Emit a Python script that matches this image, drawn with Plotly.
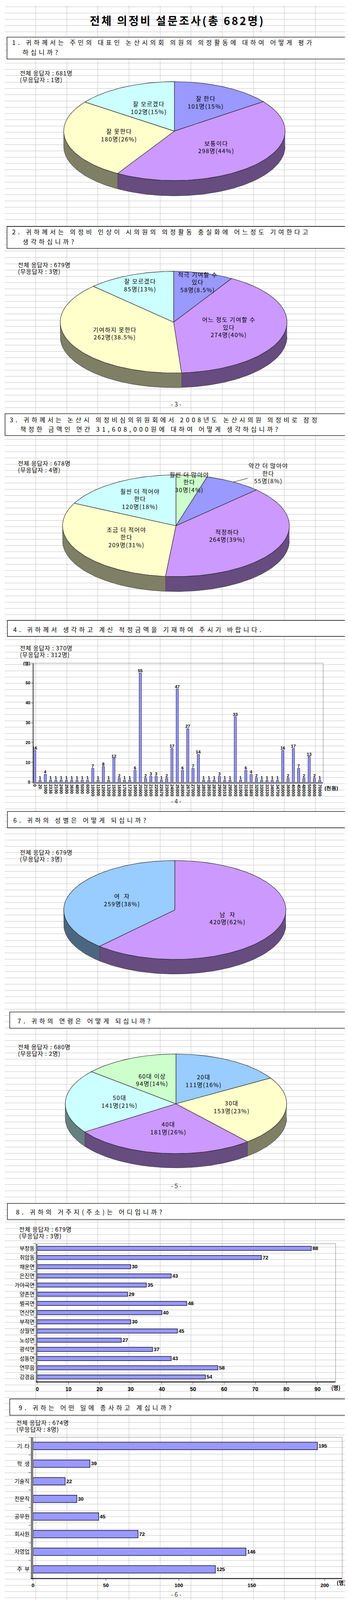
import math
import plotly.graph_objects as go

# the page is photographed 4096 px tall, so the reference's 4584 px layout is
# squeezed vertically to fit (all positions below are in reference pixels)
W, H_REF = 892, 4584
H = 4096
F = H / H_REF
KR = "Noto Sans CJK KR, Noto Sans, sans-serif"
NARROW = "Liberation Sans Narrow, Arial Narrow, Liberation Sans, sans-serif"

# ---------------- data ----------------
main_title = "전체 의정비 설문조사(총 682명)"

answered = [681, 679, 678, 370, 679, 680, 679, 674]
no_answer = [1, 3, 4, 312, 3, 2, 3, 8]

q1_labels = ["잘 한다", "보통이다", "잘 못한다", "잘 모르겠다"]
q1_counts = [101, 298, 180, 102]
q1_pct = ["15%", "44%", "26%", "15%"]

q2_labels = ["적극 기여할 수<br>있다", "어느 정도 기여할 수<br>있다", "기여하지 못한다", "잘 모르겠다"]
q2_counts = [58, 274, 262, 85]
q2_pct = ["8.5%", "40%", "38.5%", "13%"]

q3_labels = ["훨씬 더 많아야<br>한다", "약간 더 많아야<br>한다", "적정하다",
             "조금 더 적어야<br>한다", "훨씬 더 적어야<br>한다"]
q3_counts = [30, 55, 264, 209, 120]
q3_pct = ["4%", "8%", "39%", "31%", "18%"]

q4_amounts = ["0", "20", "1000", "2336", "2100", "2400", "2500", "3600", "4800", "5000", "6000",
              "10000", "11000", "12000", "13200", "15000", "16000", "17000", "17200", "18000",
              "20000", "21000", "21600", "22000", "22670", "23000", "24000", "25000", "26000",
              "26700", "27000", "28000", "28030", "28035", "28300", "29000", "29103", "29500",
              "30000", "31000", "31608", "31680", "32000", "33000", "33330", "34000", "34700",
              "35000", "36000", "40000", "45000", "48000", "50000", "60000", "70000"]
q4_counts = [16, 1, 4, 1, 1, 1, 1, 1, 1, 1, 1,
             7, 1, 8, 1, 12, 2, 1, 1, 6,
             55, 2, 3, 3, 1, 2, 17, 47, 6,
             27, 7, 14, 1, 1, 1, 3, 1, 1,
             33, 1, 6, 4, 2, 1, 1, 1, 1,
             16, 2, 17, 7, 2, 13, 2, 1]
q4_yticks = [0, 10, 20, 30, 40, 50, 60]
q4_yticktext = ["0", "10", "20", "30", "40", "50", "(명)"]

q6_labels = ["남  자", "여  자"]
q6_counts = [420, 259]
q6_pct = ["62%", "38%"]

q7_labels = ["20대", "30대", "40대", "50대", "60대 이상"]
q7_counts = [111, 153, 181, 141, 94]
q7_pct = ["16%", "23%", "26%", "21%", "14%"]

q8_areas = ["부창동", "취암동", "채운면", "은진면", "가야곡면", "양촌면", "벌곡면", "연산면",
            "부적면", "상월면", "노성면", "광석면", "성동면", "연무읍", "강경읍"]
q8_counts = [88, 72, 30, 43, 35, 29, 48, 40, 30, 45, 27, 37, 43, 58, 54]
q8_xticks = [0, 10, 20, 30, 40, 50, 60, 70, 80, 90]

q9_jobs = ["기  타", "학  생", "기술직", "전문직", "공무원", "회사원", "자영업", "주  부"]
q9_counts = [195, 39, 22, 30, 45, 72, 146, 125]
q9_xticks = [0, 50, 100, 150, 200]

questions = [
    ["1. 귀하께서는 주민의 대표인 논산시의회 의원의 의정활동에 대하여 어떻게 평가", "하십니까?"],
    ["2. 귀하께서는 의정비 인상이 시의원의 의정활동 충실화에 어느정도 기여한다고", "생각하십니까?"],
    ["3. 귀하께서는 논산시 의정비심의위원회에서 2008년도 논산시의원 의정비로 잠정",
     "책정한 금액인 연간 31,608,000원에 대하여 어떻게 생각하십니까?"],
    ["4. 귀하께서 생각하고 계신 적정금액을 기재하여 주시기 바랍니다."],
    ["6. 귀하의 성별은 어떻게 되십니까?"],
    ["7. 귀하의 연령은 어떻게 되십니까?"],
    ["8. 귀하의 거주지(주소)는 어디입니까?"],
    ["9. 귀하는 어떤 일에 종사하고 계십니까?"],
]
pages = ["- 3 -", "- 4 -", "- 5 -", "- 6 -"]

# ---------------- styles / layout positions (reference pixels from top-left) ----------------
BLUE, LAV, YEL, CYAN, SKY, GREEN = "#9999FF", "#CC99FF", "#FFFFCC", "#CCFFFF", "#99CCFF", "#CCFFCC"
q1_colors = [BLUE, LAV, YEL, CYAN]
q2_colors = [BLUE, LAV, YEL, CYAN]
q3_colors = [GREEN, BLUE, LAV, YEL, CYAN]
q6_colors = [LAV, SKY]
q7_colors = [SKY, YEL, LAV, CYAN, GREEN]

q_boxes = [  # x0, x1, y0, y1, [(x, y) per text line]
    (6, 879, 91, 154, [(17, 106), (44, 134)]),
    (6, 877, 635, 698, [(17, 650), (44, 678)]),
    (1, 877, 1173, 1236, [(11, 1190), (38, 1217)]),
    (7, 879, 1767, 1813, [(20, 1792)]),
    (7, 879, 2316, 2363, [(20, 2340)]),
    (13, 892, 2892, 2939, [(31, 2917)]),
    (7, 879, 3442, 3489, [(27, 3466)]),
    (13, 892, 4004, 4051, [(34, 4028)]),
]
resp_pos = [(37, 194), (32, 745), (32, 1315), (37, 1846), (37, 2433), (32, 2992), (35, 3516), (28, 4072)]
page_pos = [1145, 2285, 3391, 4565]

fig = go.Figure()
layout = {}
annotations = []
shapes = []


def xdom(x0, x1):
    return [max(0, x0 / W), min(1, x1 / W)]


def ydom(top, bottom):
    return [max(0, 1 - bottom / H_REF), min(1, 1 - top / H_REF)]


def yp(y):
    return 1 - y / H_REF


def spaced(t, ls):
    return '<span style="letter-spacing:%gpx">%s</span>' % (ls, t)


def text_at(t, x, y, size, family=KR, anchor="left", ls=0, color="black", weight="normal"):
    annotations.append(dict(text=spaced(t, ls) if ls else t, x=x / W, y=yp(y),
                            xref="paper", yref="paper", showarrow=False,
                            xanchor=anchor, yanchor="middle",
                            font=dict(family=family, size=size, color=color, weight=weight)))


def darker(c, f=0.5):
    r, g, b = int(c[1:3], 16), int(c[3:5], 16), int(c[5:7], 16)
    return "#%02x%02x%02x" % (int(r * f), int(g * f), int(b * f))


def arc(a, b, drop=0.0):
    n = max(3, int(abs(b - a) / math.radians(2)) + 2)
    ts = [a + (b - a) * i / (n - 1) for i in range(n)]
    return [math.sin(t) for t in ts], [math.cos(t) - drop for t in ts]


def pie3d(n, labels, counts, pcts, colors, g):
    cx, cy, rx, ry, d = g["cx"], g["cy"], g["rx"], g["ry"], g["depth"]
    pad = 0.02
    h = d / ry
    xa, ya = "x%d" % n, "y%d" % n
    layout["xaxis%d" % n] = dict(domain=xdom(cx - rx * (1 + pad), cx + rx * (1 + pad)),
                                 range=[-1 - pad, 1 + pad], visible=False, fixedrange=True, anchor=ya)
    layout["yaxis%d" % n] = dict(domain=ydom(cy - ry * (1 + pad), cy + ry * (1 + pad) + d),
                                 range=[-1 - pad - h, 1 + pad], visible=False, fixedrange=True, anchor=xa)
    total = sum(counts)
    bounds = [0.0]
    for c in counts:
        bounds.append(bounds[-1] + 2 * math.pi * c / total)
    # side of the cylinder (front half only)
    for i, col in enumerate(colors):
        s, e = max(bounds[i], math.pi / 2), min(bounds[i + 1], 3 * math.pi / 2)
        if s < e:
            xs, ys = arc(s, e)
            xb, yb = arc(s, e, h)
            fig.add_trace(go.Scatter(x=xs + xb[::-1], y=ys + yb[::-1], fill="toself", mode="lines",
                                     fillcolor=darker(col), line=dict(color="#202020", width=0.8),
                                     hoverinfo="skip", xaxis=xa, yaxis=ya))
    # top face
    for i, col in enumerate(colors):
        xs, ys = arc(bounds[i], bounds[i + 1])
        fig.add_trace(go.Scatter(x=[0] + xs + [0], y=[0] + ys + [0], fill="toself", mode="lines",
                                 fillcolor=col, line=dict(color="#202020", width=1.1),
                                 hoverinfo="skip", xaxis=xa, yaxis=ya))
    # data labels
    tx, ty, tt = [], [], []
    for i, lab in enumerate(labels):
        mid = (bounds[i] + bounds[i + 1]) / 2
        txt = spaced("%s<br>%d명(%s)" % (lab, counts[i], pcts[i]), 1.5)
        if i in g.get("outside", {}):
            ox, oy = g["outside"][i]
            annotations.append(dict(text=txt, x=math.sin(mid), y=math.cos(mid), xref=xa, yref=ya,
                                    ax=ox, ay=oy * F, showarrow=True, arrowhead=0, arrowwidth=1,
                                    arrowcolor="black", font=dict(family=KR, size=15, color="black")))
            continue
        r = g["label_r"][i]
        tx.append(r * math.sin(mid))
        ty.append(r * math.cos(mid))
        tt.append(txt)
    fig.add_trace(go.Scatter(x=tx, y=ty, text=tt, mode="text", cliponaxis=False,
                             textfont=dict(family=KR, size=15, color="black"),
                             hoverinfo="skip", xaxis=xa, yaxis=ya))


# ---------------- background spreadsheet grid ----------------
fig.add_trace(go.Scatter(x=[0], y=[0], mode="markers", marker=dict(opacity=0), hoverinfo="skip"))
layout["xaxis"] = dict(domain=[0, 1], range=[0, W], tick0=0, dtick=80, showgrid=True,
                       gridcolor="#C4C4C4", gridwidth=1, showticklabels=False, zeroline=False,
                       fixedrange=True)
layout["yaxis"] = dict(domain=[0, 1], range=[H_REF, 0], tick0=4, dtick=18, showgrid=True,
                       gridcolor="#C4C4C4", gridwidth=1, showticklabels=False, zeroline=False,
                       fixedrange=True)

# ---------------- headings ----------------
text_at("<b>%s</b>" % main_title, 444, 43, 28, anchor="center", ls=4)
for (x0, x1, y0, y1, lines), qt in zip(q_boxes, questions):
    shapes.append(dict(type="rect", xref="paper", yref="paper", x0=x0 / W, x1=x1 / W,
                       y0=yp(y1), y1=yp(y0), fillcolor="white",
                       line=dict(color="black", width=1.3), layer="above"))
    for (lx, ly), t in zip(lines, qt):
        text_at(t, lx, ly, 16, ls=6)
for (x, y), a, na in zip(resp_pos, answered, no_answer):
    text_at("전체 응답자 : %d명" % a, x, y, 15, ls=1)
    text_at("(무응답자 : %d명)" % na, x, y + 19, 15, ls=1)
for p, y in zip(pages, page_pos):
    text_at(p, 441, y, 16, anchor="center", color="#333333")

# ---------------- pies ----------------
pie3d(2, q1_labels, q1_counts, q1_pct, q1_colors,
      dict(cx=437, cy=361, rx=285, ry=142, depth=44, label_r=[0.63, 0.51, 0.51, 0.51]))
pie3d(3, q2_labels, q2_counts, q2_pct, q2_colors,
      dict(cx=435, cy=910, rx=292, ry=146, depth=42, label_r=[0.8, 0.5, 0.57, 0.77]))
pie3d(4, q3_labels, q3_counts, q3_pct, q3_colors,
      dict(cx=441, cy=1495, rx=292, ry=146, depth=43, label_r=[0.85, 0, 0.5, 0.5, 0.6],
           outside={1: (89, -26)}))
pie3d(6, q6_labels, q6_counts, q6_pct, q6_colors,
      dict(cx=438, cy=2599, rx=286, ry=142, depth=42, label_r=[0.51, 0.51]))
pie3d(7, q7_labels, q7_counts, q7_pct, q7_colors,
      dict(cx=441, cy=3156, rx=285, ry=143, depth=41, label_r=[0.51] * 5))

# ---------------- Q4 column chart ----------------
idx = list(range(len(q4_amounts)))
fig.add_trace(go.Bar(x=idx, y=q4_counts, width=0.42, xaxis="x5", yaxis="y5",
                     marker=dict(color=BLUE, line=dict(color="#10103a", width=1)),
                     text=q4_counts, textposition="outside", constraintext="none", cliponaxis=False,
                     textfont=dict(family=NARROW, size=11, color="black", weight="bold"),
                     hoverinfo="skip"))
layout["xaxis5"] = dict(domain=xdom(74, 820), range=[-0.25, len(idx) - 0.35], anchor="y5",
                        tickvals=idx, ticktext=q4_amounts, tickangle=90, showgrid=False,
                        zeroline=False, showline=True, linecolor="#808080", linewidth=3,
                        tickfont=dict(family=NARROW, size=11, color="black", weight="bold"),
                        fixedrange=True)
layout["yaxis5"] = dict(domain=ydom(1890, 2232), range=[0, 60], anchor="x5",
                        tickvals=q4_yticks, ticktext=q4_yticktext, ticks="outside", ticklen=4,
                        showgrid=False, zeroline=False, showline=True, linecolor="black",
                        linewidth=1.5,
                        tickfont=dict(family=NARROW, size=11, color="black", weight="bold"),
                        fixedrange=True)
shapes.append(dict(type="rect", xref="x5 domain", yref="y5 domain", x0=0, x1=1, y0=0, y1=1,
                   line=dict(color="#808080", width=1)))
text_at("(천원)", 822, 2249, 13, family=NARROW, weight="bold")

# ---------------- Q8 bar chart ----------------
fig.add_trace(go.Bar(x=q8_counts, y=q8_areas, orientation="h", width=0.45, xaxis="x8", yaxis="y8",
                     marker=dict(color=BLUE, line=dict(color="#10103a", width=1.5)),
                     text=q8_counts, textposition="outside", constraintext="none", cliponaxis=False,
                     textfont=dict(family=NARROW, size=13, color="black", weight="bold"),
                     hoverinfo="skip"))
layout["xaxis8"] = dict(domain=xdom(84, 852), range=[0, 95.8], anchor="y8", tickvals=q8_xticks,
                        ticks="outside", ticklen=5, showgrid=False, zeroline=False, showline=True,
                        linecolor="black", linewidth=2,
                        tickfont=dict(family=NARROW, size=14, color="black", weight="bold"),
                        fixedrange=True)
layout["yaxis8"] = dict(domain=ydom(3558, 3954), anchor="x8", type="category", autorange="reversed",
                        tickson="boundaries", ticks="outside", ticklen=6, showgrid=False,
                        showline=True, linecolor="#808080", linewidth=4,
                        tickfont=dict(family=KR, size=14, color="black"), fixedrange=True)
shapes.append(dict(type="rect", xref="x8 domain", yref="y8 domain", x0=0, x1=1, y0=0, y1=1,
                   line=dict(color="#808080", width=1)))
text_at("(명)", 839, 3971, 14, family=KR, weight="bold")

# ---------------- Q9 bar chart ----------------
fig.add_trace(go.Bar(x=q9_counts, y=q9_jobs, orientation="h", width=0.42, xaxis="x9", yaxis="y9",
                     marker=dict(color=BLUE, line=dict(color="#10103a", width=1.5)),
                     text=q9_counts, textposition="outside", constraintext="none", cliponaxis=False,
                     textfont=dict(family=NARROW, size=13, color="black", weight="bold"),
                     hoverinfo="skip"))
layout["xaxis9"] = dict(domain=xdom(73, 869), range=[0, 212], anchor="y9", tickvals=q9_xticks,
                        ticks="outside", ticklen=5, showgrid=False, zeroline=False, showline=True,
                        linecolor="black", linewidth=2,
                        tickfont=dict(family=NARROW, size=13, color="black", weight="bold"),
                        fixedrange=True)
layout["yaxis9"] = dict(domain=ydom(4114, 4519), anchor="x9", type="category", autorange="reversed",
                        tickson="boundaries", ticks="outside", ticklen=6, showgrid=False,
                        showline=True, linecolor="#808080", linewidth=6,
                        tickfont=dict(family=KR, size=14, color="black"), fixedrange=True)
shapes.append(dict(type="rect", xref="x9 domain", yref="y9 domain", x0=0, x1=1, y0=0, y1=1,
                   line=dict(color="#808080", width=1)))
text_at("(명)", 853, 4531, 14, family=KR, weight="bold")

fig.update_layout(width=W, height=H, margin=dict(l=0, r=0, t=0, b=0), showlegend=False,
                  paper_bgcolor="white", plot_bgcolor="rgba(0,0,0,0)",
                  annotations=annotations, shapes=shapes, **layout)

fig.write_html("out.html")
